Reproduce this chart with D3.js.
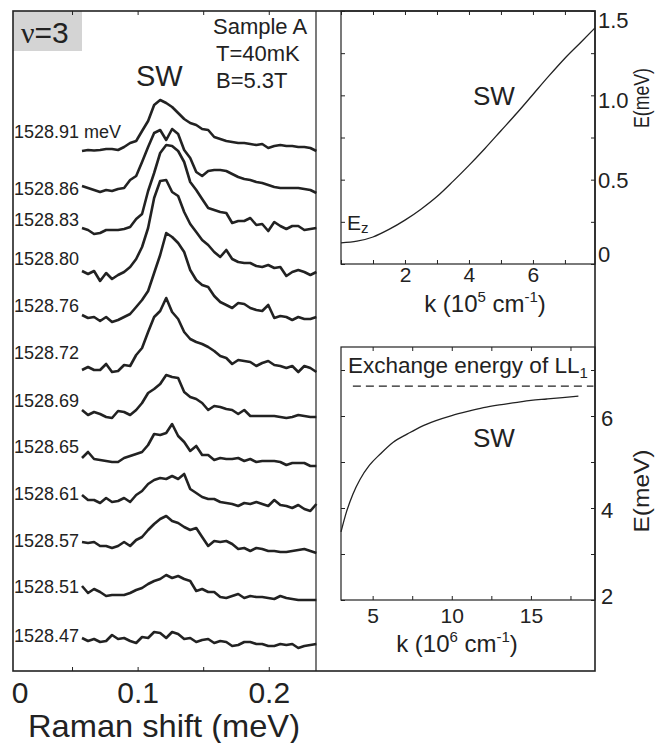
<!DOCTYPE html>
<html>
<head>
<meta charset="utf-8">
<title>Spin wave, nu=3</title>
<script src="https://cdn.jsdelivr.net/npm/d3@7"></script>
<style>
  html, body { margin: 0; padding: 0; background: #fff; }
  svg { display: block; }
  text { font-family: "Liberation Sans", Arial, sans-serif; fill: #222; }
  .tick text { fill: #222; }
</style>
</head>
<body>
<div id="chart"></div>
<script>
// Raman spectra (left panel): shift grid in meV, shared by every trace
const ramanShift = [
    0.0576, 0.0622, 0.0668, 0.0714, 0.0760, 0.0805, 0.0851, 0.0897, 0.0943, 0.0989,
    0.1034, 0.1080, 0.1126, 0.1172, 0.1218, 0.1263, 0.1309, 0.1355, 0.1401, 0.1447,
    0.1492, 0.1538, 0.1584, 0.1630, 0.1676, 0.1721, 0.1767, 0.1813, 0.1859, 0.1905,
    0.1950, 0.1996, 0.2042, 0.2088, 0.2134, 0.2179, 0.2225, 0.2271, 0.2317, 0.2363
];

// laser energies, top to bottom
const laserLabels = ['1528.91 meV', '1528.86', '1528.83', '1528.80', '1528.76', '1528.72',
    '1528.69', '1528.65', '1528.61', '1528.57', '1528.51', '1528.47'];

// vertical offset of each trace (arb. units) and where its label sits
const traceOffsets = [520, 481, 443, 399, 355, 301, 259, 213, 173, 128, 81, 33];
const labelLevels = [533, 476, 445, 406, 359, 312, 264, 218, 171, 124, 78, 29];

// intensities above each offset (arb. units)
const spectra = [
    [0, 1, 0.5, 1, 2, 2, 1, 4, 8, 10, 20, 30, 46, 51, 48, 44, 38, 32, 28, 26, 22, 21, 14, 12, 10, 9, 8, 8, 7, 6, 7, 3, 5, 6, 5, 5, 4, 4, 3, 0],
    [4, 2, 0, -2, 0, -1, 1, 2, 10, 14, 28, 43, 57, 60, 50, 61, 56, 40, 32, 18, 14, 19, 20, 20, 19, 16, 13, 11, 10, 8, 7, 5, 3, 2, 2, 2, 2, 1, 0, -3],
    [0, -2, -6, -5, -2, -2, -2, -1, 1, 9, 14, 37, 55, 75, 83, 82, 77, 66, 46, 38, 29, 20, 18, 16, 15, 5, 7, 7, 10, 3, 4, -3, 6, 2, -1, 2, 2, -2, -1, 0],
    [1, -2, 1, -9, -1, -7, -3, 0, 5, 13, 25, 44, 74, 91, 92, 80, 76, 60, 48, 40, 32, 27, 20, 15, 22, 13, 10, 9, 9, 6, 5, 7, 4, 5, -4, 0, 2, 0, -3, 0],
    [1, -2, -1, -5, -1, -6, -4, -1, 2, 9, 16, 25, 43, 61, 83, 79, 73, 64, 46, 36, 31, 29, 20, 14, 11, 8, 13, 12, 8, 6, 5, 11, -2, 0, -1, -4, -1, -3, -3, -1],
    [0, 3, 0, 0, 6, -2, -1, 5, 4, 15, 22, 38, 53, 59, 72, 58, 51, 38, 31, 28, 26, 23, 19, 14, 12, 6, 10, 9, 8, 4, 7, 9, 5, 4, 2, 4, -2, 4, 2, -2],
    [2, -3, 0, -2, -5, -6, 1, 0, -3, 2, 9, 19, 23, 28, 37, 35, 34, 20, 15, 13, 9, 2, 6, 5, 3, 2, -2, 2, -4, -4, -4, -4, -4, -5, -6, -5, -3, -4, -5, -5],
    [0, 6, -1, -2, -3, -4, -4, 0, 2, 4, 6, 13, 24, 23, 25, 34, 22, 16, 7, 12, 3, 3, -2, 0, -1, -1, 0, -3, -1, -4, -3, -3, -3, -4, -7, -5, -5, -5, -8, -8],
    [3, -2, -2, -5, 0, -4, -3, 0, -4, 3, 7, 14, 18, 20, 19, 22, 19, 24, 9, 5, 1, -1, -1, -4, -5, -6, -8, -5, -6, -4, -6, -8, -2, -7, -8, -10, -7, -11, -13, -6],
    [1, 0, 1, -3, -3, -5, -3, 1, -3, 3, 6, 13, 19, 24, 27, 22, 20, 16, 13, 15, 6, -3, 2, 1, 2, -1, -6, -5, -8, -5, -6, -8, -8, -9, -9, -8, -7, -6, -8, -10],
    [4, -3, 1, -2, -6, -5, -5, -5, -3, 0, 2, 6, 9, 11, 15, 12, 14, 11, 9, -1, 1, -2, -2, -7, -8, -6, -4, -8, -6, -7, -7, -8, -9, -6, -8, -9, -10, -10, -10, -10],
    [0, -3, -1, -4, -3, 3, -1, 0, -3, -5, 1, 0, 6, 5, 0, 6, 4, -1, 0, -4, -2, -1, -5, -3, -4, -8, -7, -4, -4, -6, -6, -8, -8, -6, -7, -6, -10, -8, -7, -6]
];

const ramanTicks = [0.05, 0.1, 0.15, 0.2];
const ramanTickLabels = [0.1, 0.2];

// small-k dispersion (top right): k in 1e5 cm^-1, E in meV
const kSmall = [0, 0.5, 1, 1.5, 2, 2.5, 3, 3.5, 4, 4.5, 5, 5.5, 6, 6.5, 7, 7.5, 7.94];
const eSmall = [0.125, 0.135, 0.16, 0.205, 0.26, 0.325, 0.40, 0.49, 0.585, 0.685, 0.79, 0.895, 1.005, 1.115, 1.22, 1.315, 1.40];
const kSmallTicks = [0, 1, 2, 3, 4, 5, 6, 7];
const kSmallTickLabels = [2, 4, 6];
const eSmallTicks = [0, 0.25, 0.5, 0.75, 1, 1.25, 1.5];
const eSmallTickLabels = [0, 0.5, 1, 1.5];

// large-k dispersion (bottom right): k in 1e6 cm^-1, E in meV
const kLarge = [3, 3.35, 3.75, 4.2, 4.8, 5.5, 6.3, 7.2, 8, 9, 10, 11, 12, 13, 14, 15, 16, 17, 18];
const eLarge = [3.48, 3.92, 4.30, 4.62, 4.93, 5.18, 5.43, 5.61, 5.76, 5.90, 6.01, 6.10, 6.18, 6.24, 6.29, 6.34, 6.37, 6.40, 6.43];
const kLargeTicks = [5, 7.5, 10, 12.5, 15, 17.5];
const kLargeTickLabels = [5, 10, 15];
const eLargeTicks = [2, 3, 4, 5, 6, 7];
const eLargeTickLabels = [2, 4, 6];
const exchangeLevel = 6.65;
const exchangeSpan = [3.75, 18.95];

(function () {
    'use strict';

    const CONFIG = {
        width: 656,
        height: 743,
        ink: '#222',
        boxGray: '#d4d4d4',
        serif: '"Liberation Serif", "DejaVu Serif", serif'
    };

    const svg = d3.select('#chart').append('svg')
        .attr('width', CONFIG.width)
        .attr('height', CONFIG.height);

    /**
     * Inward tick marks on all four sides of a box
     */
    function boxTicks(g, x, y, xTicks, yTicks) {
        const [x0, x1] = x.range();
        const [y0, y1] = y.range(); // y0 bottom, y1 top
        const sets = [
            [d3.axisBottom(x).tickValues(xTicks), `translate(0,${y0})`],
            [d3.axisTop(x).tickValues(xTicks), `translate(0,${y1})`],
            [d3.axisLeft(y).tickValues(yTicks), `translate(${x0},0)`],
            [d3.axisRight(y).tickValues(yTicks), `translate(${x1},0)`]
        ];
        sets.forEach(([ax, tr]) => {
            g.append('g')
                .attr('transform', tr)
                .call(ax.tickSize(-4).tickFormat(''))
                .call(s => s.select('.domain').remove())
                .call(s => s.selectAll('line').attr('stroke', CONFIG.ink).attr('stroke-width', 1));
        });
    }

    /**
     * k (10^n cm^-1) axis title
     */
    function kTitle(g, cx, baseline, exp) {
        const t = g.append('text')
            .attr('x', cx).attr('y', baseline)
            .attr('text-anchor', 'middle')
            .attr('font-size', 24);
        t.append('tspan').text('k (10');
        t.append('tspan').attr('dy', -10).attr('font-size', 15).text(exp);
        t.append('tspan').attr('dy', 10).text(' cm');
        t.append('tspan').attr('dy', -10).attr('font-size', 15).text('-1');
        t.append('tspan').attr('dy', 10).text(')');
    }

    /**
     * Rotated E(meV) title on the right side
     */
    function eTitle(g, x, cy, len) {
        g.append('text')
            .attr('transform', `translate(${x},${cy}) rotate(-90)`)
            .attr('text-anchor', 'middle')
            .attr('font-size', 22)
            .attr('textLength', len)
            .attr('lengthAdjust', 'spacingAndGlyphs')
            .text('E(meV)');
    }

    /**
     * Left panel: stacked Raman spectra
     */
    function drawSpectra() {
        const x = d3.scaleLinear().domain([0.005, 0.236]).range([13, 316]);
        const y = d3.scaleLinear().domain([0, 660]).range([671, 11]);
        const g = svg.append('g').attr('class', 'spectra');

        g.append('rect')
            .attr('x', 13).attr('y', 11)
            .attr('width', 69).attr('height', 40)
            .attr('fill', CONFIG.boxGray);

        const line = d3.line()
            .x((d, i) => x(ramanShift[i]))
            .y(d => d);

        spectra.forEach((vals, k) => {
            const off = traceOffsets[k];
            g.append('path')
                .attr('d', line(vals.map(v => y(off + v))))
                .attr('fill', 'none')
                .attr('stroke', CONFIG.ink)
                .attr('stroke-width', 2.6)
                .attr('stroke-linejoin', 'round');

            g.append('text')
                .attr('x', 14)
                .attr('y', y(labelLevels[k]))
                .attr('font-size', 18)
                .text(laserLabels[k]);
        });

        // ticks, bottom and top
        [['axisBottom', 671], ['axisTop', 11]].forEach(([fn, yy]) => {
            g.append('g')
                .attr('transform', `translate(0,${yy})`)
                .call(d3[fn](x).tickValues(ramanTicks).tickSize(-4).tickFormat(''))
                .call(s => s.select('.domain').remove())
                .call(s => s.selectAll('line').attr('stroke', CONFIG.ink));
        });

        const lab = g.append('g')
            .attr('transform', 'translate(0,671)')
            .call(d3.axisBottom(x).tickValues(ramanTickLabels).tickSize(0).tickPadding(11)
                .tickFormat(d3.format('.1f')))
            .call(s => s.select('.domain').remove());
        lab.selectAll('text').attr('font-size', 30).attr('font-family', null);

        g.append('text')
            .attr('x', x.range()[0] + 7).attr('y', 703)
            .attr('text-anchor', 'middle')
            .attr('font-size', 30)
            .text('0');

        g.append('text')
            .attr('x', 28).attr('y', 737)
            .attr('font-size', 32)
            .attr('textLength', 272)
            .attr('lengthAdjust', 'spacingAndGlyphs')
            .text('Raman shift (meV)');

        // annotations
        const nu = g.append('text').attr('x', 21).attr('y', 43).attr('font-size', 30);
        nu.append('tspan').attr('font-family', CONFIG.serif).text('\u03bd');
        nu.append('tspan').text('=3');

        ['Sample A', 'T=40mK', 'B=5.3T'].forEach((s, i) => {
            g.append('text')
                .attr('x', i === 0 ? 213 : 216)
                .attr('y', 34 + i * 27)
                .attr('font-size', 22)
                .text(s);
        });

        g.append('text').attr('x', 136).attr('y', 86).attr('font-size', 29).text('SW');

        // divider between spectra and the dispersion panels
        g.append('line').attr('x1', 316).attr('x2', 316).attr('y1', 11).attr('y2', 671)
            .attr('stroke', CONFIG.ink).attr('stroke-width', 1.2);
    }

    /**
     * Top right: dispersion at small k
     */
    function drawSmallK() {
        const x = d3.scaleLinear().domain([0, 7.94]).range([341, 595]);
        const y = d3.scaleLinear().domain([0, 1.5]).range([264, 11]);
        const g = svg.append('g').attr('class', 'small-k');

        g.append('rect').attr('x', 341).attr('y', 11).attr('width', 254).attr('height', 253)
            .attr('fill', '#fff').attr('stroke', CONFIG.ink).attr('stroke-width', 1.2);

        boxTicks(g, x, y, kSmallTicks, eSmallTicks);

        g.append('path')
            .datum(kSmall.map((k, i) => [k, eSmall[i]]))
            .attr('d', d3.line().x(d => x(d[0])).y(d => y(d[1])).curve(d3.curveMonotoneX))
            .attr('fill', 'none').attr('stroke', CONFIG.ink).attr('stroke-width', 1.3);

        const xl = g.append('g').attr('transform', 'translate(0,264)')
            .call(d3.axisBottom(x).tickValues(kSmallTickLabels).tickSize(0).tickPadding(3))
            .call(s => s.select('.domain').remove());
        xl.selectAll('text').attr('font-size', 21).attr('font-family', null);

        // labels sit a little off their ticks, as in the original figure
        const nudge = { 0: '-0.1em', 0.5: '0.36em', 1: '0.55em', 1.5: '0.73em' };
        const yl = g.append('g').attr('transform', 'translate(595,0)')
            .call(d3.axisRight(y).tickValues(eSmallTickLabels).tickSize(0).tickPadding(3)
                .tickFormat(d => d === 0 ? '0' : d3.format('.1f')(d)))
            .call(s => s.select('.domain').remove());
        yl.selectAll('text').attr('font-size', 22).attr('font-family', null)
            .attr('dy', d => nudge[d]);

        kTitle(g, 485, 312, '5');
        eTitle(g, 649, 98, 60);

        g.append('text').attr('x', 473).attr('y', 105).attr('font-size', 26).text('SW');

        const ez = g.append('text').attr('x', 347).attr('y', 230)
            .attr('font-family', CONFIG.serif).attr('font-size', 21);
        ez.append('tspan').text('E');
        ez.append('tspan').attr('dy', 3).attr('font-size', 15).text('z');
    }

    /**
     * Bottom right: dispersion at large k
     */
    function drawLargeK() {
        const x = d3.scaleLinear().domain([3, 19.05]).range([341, 595]);
        const y = d3.scaleLinear().domain([2, 7.5]).range([600, 347]);
        const g = svg.append('g').attr('class', 'large-k');

        g.append('rect').attr('x', 341).attr('y', 347).attr('width', 254).attr('height', 253)
            .attr('fill', '#fff').attr('stroke', CONFIG.ink).attr('stroke-width', 1.2);

        boxTicks(g, x, y, kLargeTicks, eLargeTicks);

        g.append('line')
            .attr('x1', x(exchangeSpan[0])).attr('x2', x(exchangeSpan[1]))
            .attr('y1', y(exchangeLevel)).attr('y2', y(exchangeLevel))
            .attr('stroke', CONFIG.ink).attr('stroke-width', 1.2)
            .attr('stroke-dasharray', '8,5');

        g.append('path')
            .datum(kLarge.map((k, i) => [k, eLarge[i]]))
            .attr('d', d3.line().x(d => x(d[0])).y(d => y(d[1])).curve(d3.curveMonotoneX))
            .attr('fill', 'none').attr('stroke', CONFIG.ink).attr('stroke-width', 1.3);

        const xl = g.append('g').attr('transform', 'translate(0,600)')
            .call(d3.axisBottom(x).tickValues(kLargeTickLabels).tickSize(0).tickPadding(8))
            .call(s => s.select('.domain').remove());
        xl.selectAll('text').attr('font-size', 21).attr('font-family', null);

        const nudge = { 2: '0.14em', 4: '0.45em', 6: '0.45em' };
        const yl = g.append('g').attr('transform', 'translate(595,0)')
            .call(d3.axisRight(y).tickValues(eLargeTickLabels).tickSize(0).tickPadding(6)
                .tickFormat(d3.format('d')))
            .call(s => s.select('.domain').remove());
        yl.selectAll('text').attr('font-size', 22).attr('font-family', null)
            .attr('dy', d => nudge[d]);

        kTitle(g, 457, 652, '6');
        eTitle(g, 649, 491, 83);

        const ex = g.append('text').attr('x', 348).attr('y', 373).attr('font-size', 22.5);
        ex.append('tspan').text('Exchange energy of LL');
        ex.append('tspan').attr('dy', 5).attr('font-size', 15).text('1');

        g.append('text').attr('x', 473).attr('y', 447).attr('font-size', 26).text('SW');
    }

    /**
     * Outer frame around everything
     */
    function drawFrame() {
        svg.append('rect')
            .attr('x', 13).attr('y', 11).attr('width', 582).attr('height', 660)
            .attr('fill', 'none').attr('stroke', CONFIG.ink).attr('stroke-width', 1.6);
    }

    function init() {
        drawSpectra();
        drawSmallK();
        drawLargeK();
        drawFrame();
    }

    init();
})();
</script>
</body>
</html>
